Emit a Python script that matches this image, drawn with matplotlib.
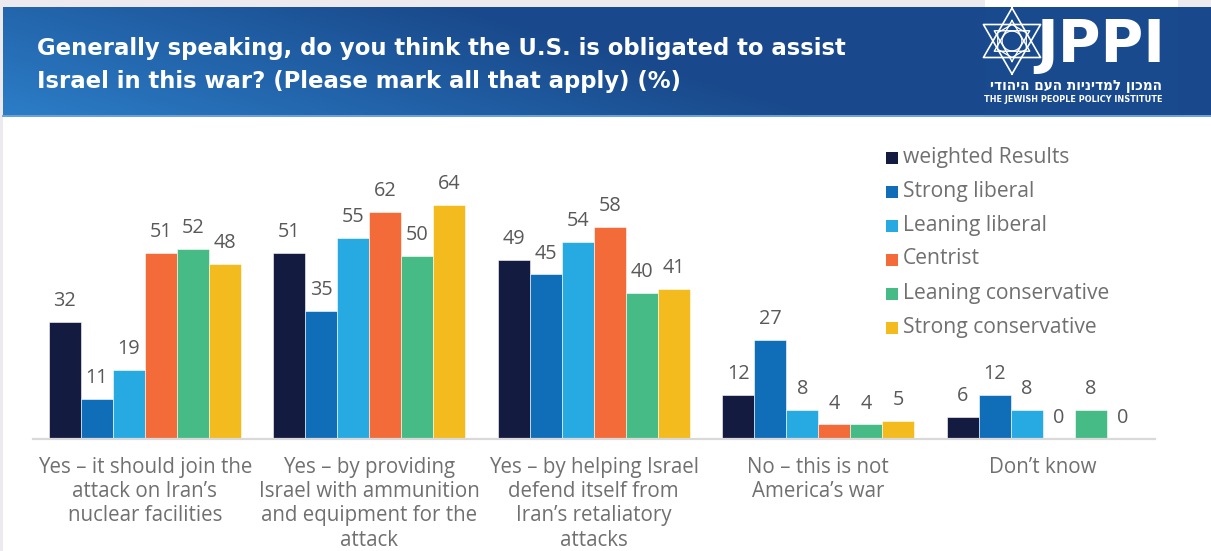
import numpy as np
import matplotlib.pyplot as plt
import matplotlib.patches as mpatches

categories = [
    "Yes – it should join the\nattack on Iran’s\nnuclear facilities",
    "Yes – by providing\nIsrael with ammunition\nand equipment for the\nattack",
    "Yes – by helping Israel\ndefend itself from\nIran’s retaliatory\nattacks",
    "No – this is not\nAmerica’s war",
    "Don’t know",
]
series_names = ["weighted Results", "Strong liberal", "Leaning liberal",
                "Centrist", "Leaning conservative", "Strong conservative"]
weighted = [32, 51, 49, 12, 6]
strong_liberal = [11, 35, 45, 27, 12]
leaning_liberal = [19, 55, 54, 8, 8]
centrist = [51, 62, 58, 4, 0]
leaning_conservative = [52, 50, 40, 4, 8]
strong_conservative = [48, 64, 41, 5, 0]
series = [weighted, strong_liberal, leaning_liberal, centrist,
          leaning_conservative, strong_conservative]
colors = ["#141B41", "#106EB8", "#27AAE1", "#F26B38", "#47BB85", "#F4BB1E"]

title = ("Generally speaking, do you think the U.S. is obligated to assist\n"
         "Israel in this war? (Please mark all that apply) (%)")
# Hebrew is stored in visual (left-to-right) order since matplotlib has no bidi
hebrew = "המכון למדיניות העם היהודי"[::-1]

W, H = 1211, 551
plt.rcParams['font.family'] = ['Open Sans', 'DejaVu Sans']
fig = plt.figure(figsize=(W / 100, H / 100), dpi=100)

# full-figure overlay in pixel coordinates for the banner and legend
bg = fig.add_axes([0, 0, 1, 1])
bg.set_xlim(0, W)
bg.set_ylim(H, 0)
bg.axis('off')

grey = "#ECEAEF"
bg.add_patch(mpatches.Rectangle((0, 0), W, 7, color=grey, lw=0))
bg.add_patch(mpatches.Rectangle((985, 0), 193, 7, color="white", lw=0))
bg.add_patch(mpatches.Rectangle((0, 0), 3, H, color=grey, lw=0))

# banner gradient: lighter at bottom left, darker towards top right
xs = np.linspace(0, 1, 300)
ys = np.linspace(0, 1, 60)
gx, gy = np.meshgrid(xs, ys)
t = np.clip(gx * 1.5 + (1 - gy) * 0.45, 0, 1)[..., None]
light = np.array([0.17, 0.49, 0.78])
dark = np.array([0.10, 0.29, 0.55])
grad = light * (1 - t) + dark * t
bg.imshow(grad, extent=(3, W, 115, 7), aspect='auto', interpolation='bilinear')
bg.add_patch(mpatches.Rectangle((985, 7), 193, 108, color="#1A4A8E", lw=0))
bg.plot([3, W], [115.5, 115.5], color="#4F8FCF", lw=1.2)

bg.text(37, 65, title, color="white", fontsize=16.4, fontweight='bold',
        family='DejaVu Sans', va='center', ha='left', linespacing=1.6)

# hexagram logo
cx, cy, r = 1012, 41, 33
for rr, lw in [(r, 1.2), (r * 0.62, 1.0)]:
    for rot in [90, 270]:
        ang = np.radians(np.array([rot, rot + 120, rot + 240, rot]))
        bg.plot(cx + rr * np.cos(ang), cy - rr * np.sin(ang), color="white", lw=lw)
ang = np.radians(np.arange(0, 361, 60) + 30)
bg.plot(cx + r * 0.5 * np.cos(ang), cy - r * 0.5 * np.sin(ang), color="white", lw=0.9)
bg.add_patch(mpatches.Circle((cx, cy), r * 0.3, fill=False, ec="white", lw=0.9))
bg.text(1036, 45, "JPPI", color="white", fontsize=42, fontweight='bold',
        family='Liberation Sans Narrow', va='center', ha='left')
bg.text(1162, 86, hebrew, color="white", fontsize=9.8, fontweight='bold',
        family='DejaVu Sans', va='center', ha='right')
bg.text(1162, 100, "THE JEWISH PEOPLE POLICY INSTITUTE", color="white", fontsize=5.9,
        fontweight='bold', family='Liberation Sans Narrow', va='center', ha='right')

# legend
for i, (name, c) in enumerate(zip(series_names, colors)):
    y = 157 + 34 * i
    bg.add_patch(mpatches.Rectangle((886, y - 5), 12, 12, color=c, lw=0))
    bg.text(903, y, name, color="#707070", fontsize=15.2, va='center', ha='left')

# bar chart
ax = fig.add_axes([32.5 / W, 112 / H, (1155 - 32.5) / W, 292.5 / H])
ax.patch.set_alpha(0)
x = np.arange(len(categories))
w = 0.1425
for i, (vals, c) in enumerate(zip(series, colors)):
    pos = x + (i - 2.5) * w
    ax.bar(pos, vals, width=w, color=c, edgecolor="white", linewidth=0.4)
    for px, v in zip(pos, vals):
        ax.annotate(str(v), (px, v), xytext=(0, 15), textcoords='offset points',
                    ha='center', va='center', fontsize=14.3, color="#595959")

ax.set_xlim(-0.5, len(categories) - 0.5)
ax.set_ylim(0, 80)
ax.set_yticks([])
ax.set_xticks(x)
ax.set_xticklabels(categories, fontsize=14.8, color="#707070", linespacing=1.2)
ax.tick_params(axis='x', length=0, pad=13)
for s in ['top', 'left', 'right']:
    ax.spines[s].set_visible(False)
ax.spines['bottom'].set_color("#D9D9D9")
ax.spines['bottom'].set_linewidth(1.6)

fig.savefig("out.png", dpi=100)
